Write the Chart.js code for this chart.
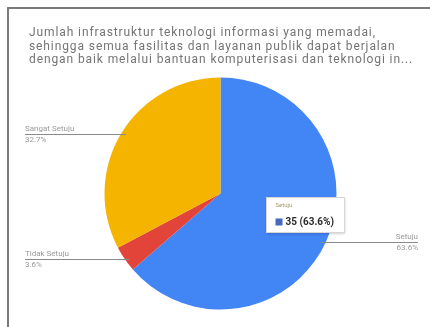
<!DOCTYPE html>
<html>
<head>
<meta charset="utf-8">
<script src="https://cdn.jsdelivr.net/npm/chart.js@4/dist/chart.umd.min.js"></script>
<style>
  html, body { margin: 0; padding: 0; background: #fff; }
  #wrap { position: relative; width: 430px; height: 327px; overflow: hidden; }
  #frame { position: absolute; left: 7px; top: 7px; right: -4px; bottom: -4px;
           border-left: 2px solid #7b7b7b; border-top: 2px solid #7b7b7b; pointer-events: none; }
  canvas { position: absolute; left: 0; top: 0; }
</style>
</head>
<body>
<div id="wrap">
  <canvas id="c" width="430" height="327"></canvas>
  <div id="frame"></div>
</div>
<script>
// Question text shown above the pie
const titleLines = [
  "Jumlah infrastruktur teknologi informasi yang memadai,",
  "sehingga semua fasilitas dan layanan publik dapat berjalan",
  "dengan baik melalui bantuan komputerisasi dan teknologi in..."
];
// Answer categories and response counts
const categories = ["Setuju", "Tidak Setuju", "Sangat Setuju"];
const counts = [35, 2, 18];
const sliceColors = ["#4285f4", "#e2443a", "#f4b400"];
// Category whose detail box is shown
const highlighted = "Setuju";

const total = counts.reduce((a, b) => a + b, 0);
const pct = v => (v / total * 100).toFixed(1) + "%";

const FONT = "Roboto, 'Noto Sans', sans-serif";

const annotations = {
  id: "annotations",
  afterDraw(chart) {
    const ctx = chart.ctx;
    ctx.save();

    // question title
    ctx.fillStyle = "#747474";
    ctx.font = "12px " + FONT;
    ctx.letterSpacing = "0.9px";
    ctx.textBaseline = "middle";
    ctx.textAlign = "left";
    titleLines.forEach((t, i) => ctx.fillText(t, 29, 33 + i * 13.5));
    ctx.letterSpacing = "0px";

    const meta = chart.getDatasetMeta(0);
    meta.data.forEach((arc, i) => {
      const p = arc.getProps(["x", "y", "startAngle", "endAngle", "outerRadius"], true);
      const mid = (p.startAngle + p.endAngle) / 2;
      const ex = p.x + Math.cos(mid) * p.outerRadius * 0.95;
      const ey = p.y + Math.sin(mid) * p.outerRadius;
      const left = ex < p.x;
      const tx = left ? 25 : 418;
      const ly = Math.round(ey) + 0.5;
      ctx.strokeStyle = "#8a8a8a";
      ctx.lineWidth = 1;
      ctx.beginPath();
      ctx.moveTo(tx, ly);
      ctx.lineTo(ex, ly);
      ctx.stroke();
      ctx.fillStyle = "#9a9a9a";
      ctx.font = "8px " + FONT;
      ctx.textAlign = left ? "left" : "right";
      ctx.textBaseline = "bottom";
      ctx.fillText(categories[i], tx, ly - 1.5);
      ctx.textBaseline = "top";
      ctx.fillText(pct(counts[i]), tx, ly + 1.5);
    });

    // detail box for the highlighted slice
    const hi = categories.indexOf(highlighted);
    const a = meta.data[hi].getProps(["x", "y", "startAngle", "endAngle", "outerRadius"], true);
    const m = (a.startAngle + a.endAngle) / 2;
    const ax = a.x + Math.cos(m) * a.outerRadius * 0.8;
    const ay = a.y + Math.sin(m) * a.outerRadius * 0.8;
    const bw = 78, bh = 35;
    const bx = Math.round(ax - bw / 2) + 0.5, by = Math.round(ay - bh) + 0.5;
    ctx.shadowColor = "rgba(0,0,0,0.25)";
    ctx.shadowBlur = 3;
    ctx.shadowOffsetY = 1;
    ctx.fillStyle = "#ffffff";
    ctx.fillRect(bx, by, bw, bh);
    ctx.shadowColor = "transparent";
    ctx.strokeStyle = "#d6d6d6";
    ctx.strokeRect(bx, by, bw, bh);
    ctx.textAlign = "left";
    ctx.textBaseline = "middle";
    ctx.fillStyle = "#a39a6a";
    ctx.font = "6px " + FONT;
    ctx.fillText(highlighted, bx + 9, by + 8);
    ctx.fillStyle = "#4a67bd";
    ctx.fillRect(bx + 9, by + 21, 7, 7);
    ctx.fillStyle = "#2b2b2b";
    ctx.font = "bold 10px " + FONT;
    ctx.fillText(counts[hi] + " (" + pct(counts[hi]) + ")", bx + 19, by + 25);

    ctx.restore();
  }
};

new Chart(document.getElementById("c"), {
  type: "pie",
  data: {
    labels: categories,
    datasets: [{
      data: counts,
      backgroundColor: sliceColors,
      borderWidth: 0
    }]
  },
  options: {
    responsive: false,
    devicePixelRatio: 1,
    animation: false,
    events: [],
    layout: { padding: { top: 77.5, bottom: 17.5, left: 70, right: 59 } },
    plugins: {
      legend: { display: false },
      tooltip: { enabled: false },
      title: { display: false }
    }
  },
  plugins: [annotations]
});
</script>
</body>
</html>
